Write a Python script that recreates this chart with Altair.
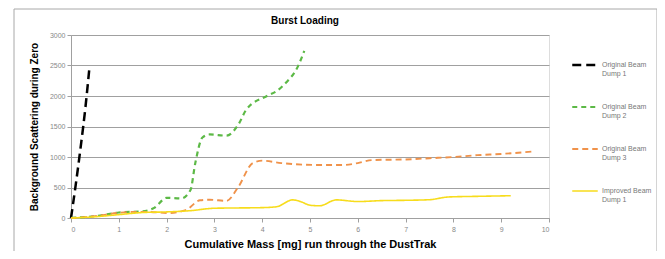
import altair as alt
import pandas as pd

series_names = ["Original Beam\nDump 1", "Original Beam\nDump 2", "Original Beam\nDump 3", "Improved Beam\nDump 1"]
series_colors = ["#000000", "#5cb946", "#f0924a", "#f7dc1c"]
series_dash = [[9, 5], [5, 4], [6, 4], [1, 0]]
series_width = [2.5, 1.6, 2.0, 2.2]

x_dump1 = [0, 0.1, 0.2, 0.3, 0.38]
y_dump1 = [0, 550, 1150, 1800, 2420]

x_dump2 = [0, 0.5, 1.0, 1.5, 1.75, 2.0, 2.3, 2.5, 2.6, 2.75, 2.9, 3.25, 3.5, 3.67, 4.1, 4.3, 4.5, 4.75, 4.88]
y_dump2 = [0, 30, 90, 110, 170, 330, 320, 460, 900, 1320, 1370, 1350, 1530, 1780, 2000, 2080, 2220, 2490, 2740]

x_dump3 = [0, 0.5, 1.0, 1.3, 1.6, 2.05, 2.4, 2.7, 2.9, 3.25, 3.5, 3.8, 4.0, 4.4, 5.1, 5.7, 6.0, 6.3, 7.0, 7.5, 8.0, 8.5, 9.0, 9.66]
y_dump3 = [0, 30, 85, 100, 100, 82, 130, 290, 300, 280, 510, 900, 940, 900, 870, 870, 900, 950, 960, 980, 1000, 1030, 1050, 1090]

x_improved = [0, 0.5, 1.0, 1.5, 2.0, 2.5, 3.0, 3.5, 4.0, 4.3, 4.64, 4.8, 5.0, 5.2, 5.55, 6.0, 6.5, 7.0, 7.5, 7.9, 8.5, 9.2]
y_improved = [0, 20, 55, 90, 100, 120, 160, 165, 170, 185, 297, 270, 210, 200, 297, 270, 285, 290, 300, 345, 355, 365]

x_ticks = list(range(0, 11))
y_ticks = [0, 500, 1000, 1500, 2000, 2500, 3000]

rows = []
for name, xs, ys in zip(series_names, [x_dump1, x_dump2, x_dump3, x_improved],
                        [y_dump1, y_dump2, y_dump3, y_improved]):
    for i, (xv, yv) in enumerate(zip(xs, ys)):
        rows.append({"series": name, "mass": xv, "scatter": yv, "order": i})
df = pd.DataFrame(rows)

FONT = "Liberation Sans"

frame = alt.Chart(pd.DataFrame({"a": [0]})).mark_rect(
    fill=None, stroke="#a8a8a8", strokeWidth=1, clip=False
).encode(
    x=alt.value(-57), x2=alt.value(586), y=alt.value(-26), y2=alt.value(240)
)

lines = alt.Chart(df).mark_line(interpolate="monotone", clip=False).encode(
    x=alt.X("mass:Q", scale=alt.Scale(domain=[0, 10], nice=False),
            axis=alt.Axis(values=x_ticks, title="Cumulative Mass [mg] run through the DustTrak",
                          format="d",
                          grid=False, domainColor="#a0a0a0", tickColor="#a0a0a0", tickSize=4,
                          labelFontSize=7, labelColor="#888888", labelPadding=3,
                          titleFontSize=11, titleFontWeight="bold", titleColor="#000000",
                          titlePadding=6, titleFont=FONT, labelFont=FONT)),
    y=alt.Y("scatter:Q", scale=alt.Scale(domain=[0, 3000], nice=False),
            axis=alt.Axis(values=y_ticks, title="Background Scattering during Zero",
                          format="d",
                          grid=True, gridColor="#a0a0a0", gridWidth=1.2,
                          domainColor="#a0a0a0", tickColor="#a0a0a0", tickSize=4,
                          labelFontSize=7, labelColor="#888888", labelPadding=2,
                          titleFontSize=10, titleFontWeight="bold", titleColor="#000000",
                          titlePadding=10, titleFont=FONT, labelFont=FONT)),
    color=alt.Color("series:N", scale=alt.Scale(domain=series_names, range=series_colors),
                    legend=alt.Legend(title=None, orient="none", legendX=500, legendY=16,
                                      symbolType="stroke", symbolSize=650, symbolStrokeWidth=2.5,
                                      labelExpr="split(datum.label, '\\n')",
                                      labelFontSize=7, labelColor="#777777", labelFont=FONT,
                                      rowPadding=16, labelOffset=3, labelLimit=120)),
    strokeDash=alt.StrokeDash("series:N", scale=alt.Scale(domain=series_names, range=series_dash),
                              legend=None),
    strokeWidth=alt.StrokeWidth("series:N", scale=alt.Scale(domain=series_names, range=series_width),
                                legend=None),
    order="order:Q",
)

chart = alt.layer(frame, lines).properties(
    width=478, height=183,
    title=alt.TitleParams("Burst Loading", fontSize=10, fontWeight="bold", font=FONT,
                          color="#000000", anchor="middle", offset=-17, dx=-5, frame="group"),
    autosize=alt.AutoSizeParams(type="none"),
    padding={"left": 63, "top": 27, "right": 108, "bottom": 33},
).configure_view(stroke=None).configure(background="white")

chart.save("out.html", embed_options={"renderer": "svg", "actions": False})
